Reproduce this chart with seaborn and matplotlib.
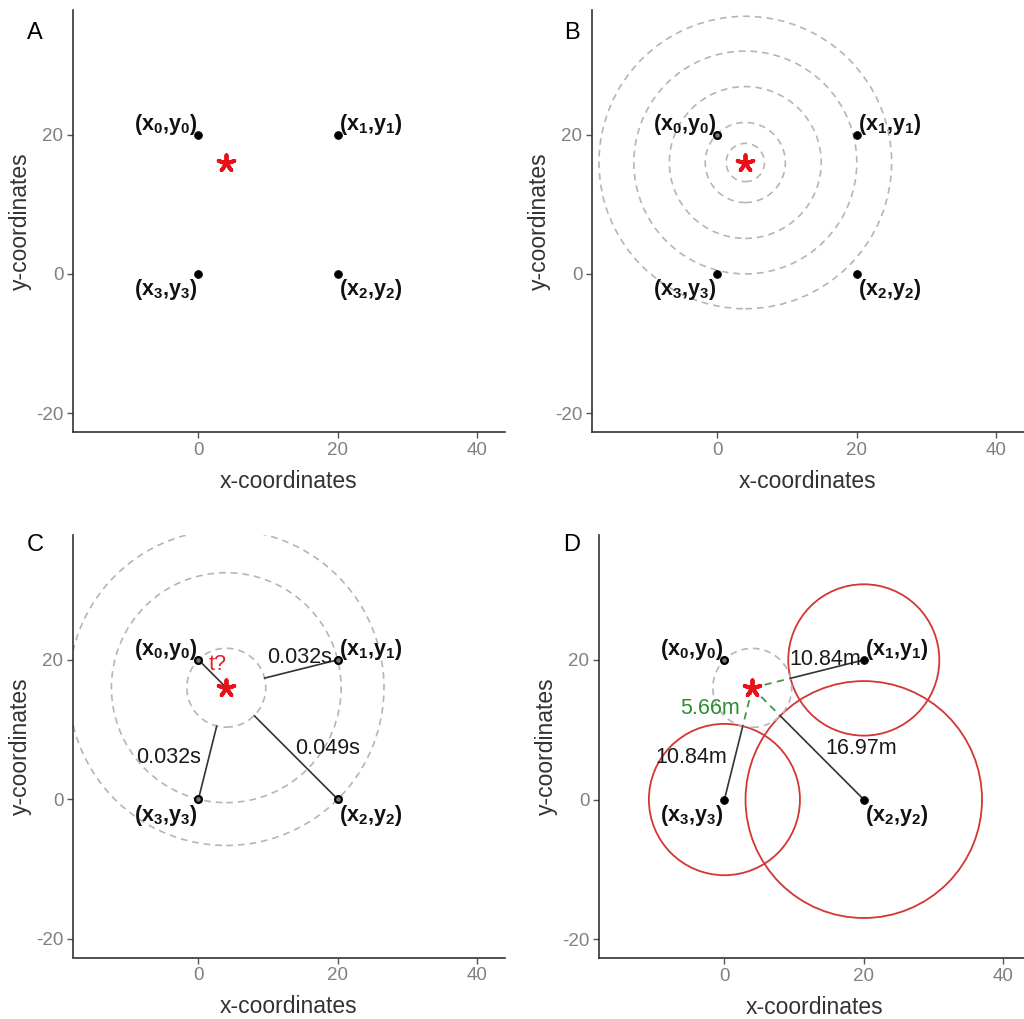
import numpy as np
import matplotlib
matplotlib.use("Agg")
import matplotlib.pyplot as plt
from matplotlib.patches import Circle
import seaborn as sns

# ---- data -------------------------------------------------------------
station_x = [0, 20, 20, 0]
station_y = [20, 20, 0, 0]
station_names = [r"$\mathrm{(x_0{,}y_0)}$", r"$\mathrm{(x_1{,}y_1)}$",
                 r"$\mathrm{(x_2{,}y_2)}$", r"$\mathrm{(x_3{,}y_3)}$"]
label_x = [-0.2, 20.2, 20.2, -0.2]
label_y = [21.5, 21.5, -2.3, -2.3]
label_ha = ["right", "left", "left", "right"]

source_x = [4]
source_y = [16]

# expanding wavefronts (panel B)
wave_radii = [2.75, 5.75, 10.9, 16.0, 21.0]

# source-to-station distances (panel C wavefronts)
arrival_radii = [5.66, 16.49, 22.63]

# time differences of arrival relative to station 0 (panel C)
tdoa_labels = ["0.032s", "0.049s", "0.032s"]
tdoa_x = [14.5, 18.6, -4.3]
tdoa_y = [20.3, 7.3, 6.0]

# range differences (panel D)
range_radii = [10.84, 16.97, 10.84]
range_labels = ["10.84m", "16.97m", "10.84m"]
range_x = [14.5, 19.6, -4.8]
range_y = [20.0, 7.3, 6.0]
ref_radius = 5.66
ref_label = "5.66m"

xlim = (-18, 44)
ylim = (-22.7, 37.9)

# ---- style ------------------------------------------------------------
sns.set_theme(style="ticks")
plt.rcParams["font.family"] = ["Liberation Sans", "DejaVu Sans"]
plt.rcParams["axes.unicode_minus"] = False
plt.rcParams["mathtext.fontset"] = "custom"
plt.rcParams["mathtext.rm"] = "Liberation Sans:bold"
plt.rcParams["mathtext.it"] = "Liberation Sans:bold"
plt.rcParams["mathtext.bf"] = "Liberation Sans:bold"

fig = plt.figure(figsize=(10.24, 10.19), dpi=100)
W, H = 1024, 1019

def rect(left, top, right, bottom):
    return [left / W, 1 - bottom / H, (right - left) / W, (bottom - top) / H]

axA = fig.add_axes(rect(73, 10, 505, 432))
axB = fig.add_axes(rect(592, 10, 1024, 432))
axC = fig.add_axes(rect(73, 535, 505, 957.5))
axD = fig.add_axes(rect(599, 535, 1031, 958))

for ax, letter, (lx, ly) in zip([axA, axB, axC, axD], "ABCD",
                                [(35, 33), (572, 33), (35, 545), (572, 545)]):
    ax.set_xlim(*xlim)
    ax.set_ylim(*ylim)
    ax.set_xticks([0, 20, 40])
    ax.set_yticks([-20, 0, 20])
    sns.despine(ax=ax)
    for s in ("left", "bottom"):
        ax.spines[s].set_color("#333333")
        ax.spines[s].set_linewidth(1.2)
    ax.tick_params(axis="both", length=4, width=1.0, color="#555555",
                   labelsize=13.5, labelcolor="#808080", pad=3)
    ax.set_xlabel("x-coordinates", fontsize=16.5, color="#333333", labelpad=8)
    ax.set_ylabel("y-coordinates", fontsize=16.5, color="#333333", labelpad=3)
    fig.text(lx / W, 1 - ly / H, letter, fontsize=17, color="black",
             ha="center", va="center")


def stations(ax, hollow):
    for i in range(4):
        if i in hollow:
            sns.scatterplot(x=[station_x[i]], y=[station_y[i]], ax=ax, s=24,
                            color="#777777", edgecolor="black", linewidth=1.6,
                            legend=False, zorder=5)
        else:
            sns.scatterplot(x=[station_x[i]], y=[station_y[i]], ax=ax, s=32,
                            color="black", edgecolor="black", linewidth=0.5,
                            legend=False, zorder=5)
        ax.text(label_x[i], label_y[i], station_names[i], ha=label_ha[i],
                va="center", fontsize=15.5, color="#111111", zorder=6)


def source(ax):
    sns.scatterplot(x=source_x, y=source_y, ax=ax, marker=(5, 2, 0), s=140,
                    color="#e8111a", edgecolor="#e8111a", linewidth=2.8,
                    legend=False, zorder=7)


def dashed_circle(ax, r, color="#b5b5b5", lw=1.2):
    ax.add_patch(Circle((source_x[0], source_y[0]), r, fill=False,
                        edgecolor=color, linewidth=lw, linestyle=(0, (4, 3)),
                        zorder=2))


sx, sy = source_x[0], source_y[0]

# Panel A: sensor layout and source
stations(axA, hollow=[])
source(axA)

# Panel B: wavefronts spreading from the source
for r in wave_radii:
    dashed_circle(axB, r)
stations(axB, hollow=[0])
source(axB)

# Panel C: arrival times at each sensor
for r in arrival_radii:
    dashed_circle(axC, r)
axC.plot([station_x[0], sx], [station_y[0], sy], color="#333333", lw=1.2, zorder=3)
for i in (1, 2, 3):
    dx, dy = station_x[i] - sx, station_y[i] - sy
    d = np.hypot(dx, dy)
    ex, ey = sx + dx / d * arrival_radii[0], sy + dy / d * arrival_radii[0]
    axC.plot([ex, station_x[i]], [ey, station_y[i]], color="#333333", lw=1.2, zorder=3)
for t, x, y in zip(tdoa_labels, tdoa_x, tdoa_y):
    axC.text(x, y, t, ha="center", va="center", fontsize=15.5, color="#1a1a1a", zorder=6)
axC.text(2.8, 19.3, "t?", ha="center", va="center", fontsize=15.5, color="#e0202a", zorder=6)
stations(axC, hollow=[0, 1, 2, 3])
source(axC)

# Panel D: range differences and hyperbolic circles
for i, r in zip((1, 2, 3), range_radii):
    axD.add_patch(Circle((station_x[i], station_y[i]), r, fill=False,
                         edgecolor="#d43535", linewidth=1.3, zorder=2))
dashed_circle(axD, ref_radius)
for i in (1, 2, 3):
    dx, dy = station_x[i] - sx, station_y[i] - sy
    d = np.hypot(dx, dy)
    ex, ey = sx + dx / d * ref_radius, sy + dy / d * ref_radius
    axD.plot([sx, ex], [sy, ey], color="#3f9a3f", lw=1.3, ls=(0, (4, 3)), zorder=3)
    axD.plot([ex, station_x[i]], [ey, station_y[i]], color="#333333", lw=1.2, zorder=3)
for t, x, y in zip(range_labels, range_x, range_y):
    axD.text(x, y, t, ha="center", va="center", fontsize=15.5, color="#1a1a1a", zorder=6)
axD.text(-2.0, 13.1, ref_label, ha="center", va="center", fontsize=15.5,
         color="#2f8f2f", zorder=6)
stations(axD, hollow=[0])
source(axD)

fig.savefig("out.png", dpi=100)
